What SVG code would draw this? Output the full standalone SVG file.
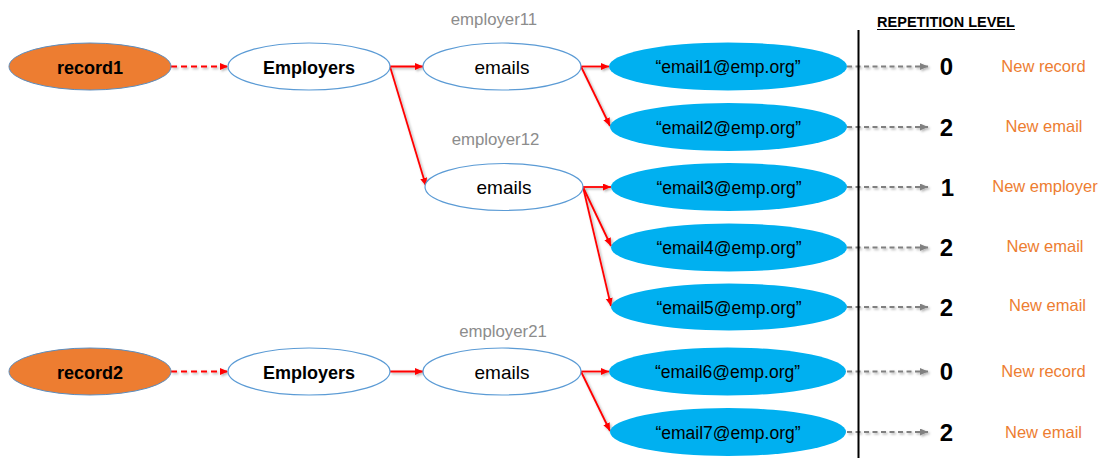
<svg xmlns="http://www.w3.org/2000/svg" width="1102" height="458" viewBox="0 0 1102 458">
  <defs>
    <style>
      .rec { fill: #ED7D31; stroke: #5B8DBF; stroke-width: 1; }
      .grp { fill: #FFFFFF; stroke: #5B9BD5; stroke-width: 1.2; }
      .val { fill: #00B0F0; }
      .t { font-family: "Liberation Sans", Arial, sans-serif; fill: #000; text-anchor: middle; }
      .tb { font-weight: bold; font-size: 18px; }
      .tn { font-size: 19px; }
      .te { font-size: 17.5px; }
      .lbl { font-family: "Liberation Sans", Arial, sans-serif; font-size: 16.8px; fill: #8C8C8C; text-anchor: middle; }
      .lvl { font-family: "Liberation Sans", Arial, sans-serif; font-size: 24px; font-weight: bold; fill: #000; text-anchor: middle; }
      .why { font-family: "Liberation Sans", Arial, sans-serif; font-size: 16.5px; fill: #ED7D31; text-anchor: middle; }
      .red { fill: none; stroke: #FF0000; stroke-width: 1.8; marker-end: url(#ah-red); }
      .dash { stroke-dasharray: 6 4; }
      .gray { fill: none; stroke: #808080; stroke-width: 1.8; stroke-dasharray: 5 3.5; marker-end: url(#ah-gray); }
    </style>
    <marker id="ah-red" markerUnits="userSpaceOnUse" markerWidth="9" markerHeight="8" refX="8" refY="3.5" orient="auto">
      <path d="M0,0 L8,3.5 L0,7 z" fill="#FF0000"/>
    </marker>
    <marker id="ah-gray" markerUnits="userSpaceOnUse" markerWidth="9" markerHeight="8" refX="8" refY="3.5" orient="auto">
      <path d="M0,0 L8,3.5 L0,7 z" fill="#808080"/>
    </marker>
    <filter id="shadow" x="-10%" y="-50%" width="120%" height="200%">
      <feDropShadow dx="1.5" dy="1.5" stdDeviation="1" flood-color="#000" flood-opacity="0.3"/>
    </filter>
  </defs>

  <rect width="1102" height="458" fill="#FFFFFF"/>

  <!-- connectors -->
  <g id="connectors">
    <g filter="url(#shadow)">
      <line class="red dash" x1="171" y1="66.5" x2="228" y2="66.5"/>
      <line class="red" x1="390" y1="66.5" x2="423" y2="66.5"/>
      <line class="red" x1="390" y1="66.5" x2="426" y2="186"/>
      <line class="red" x1="581" y1="66.5" x2="609" y2="66.5"/>
      <line class="red" x1="581" y1="66.5" x2="610" y2="126"/>
      <line class="red" x1="583" y1="187" x2="611" y2="187"/>
      <line class="red" x1="583" y1="187" x2="611" y2="246"/>
      <line class="red" x1="583" y1="187" x2="611" y2="306"/>
      <line class="red dash" x1="171" y1="371.5" x2="228" y2="371.5"/>
      <line class="red" x1="390" y1="371.5" x2="423" y2="371.5"/>
      <line class="red" x1="581" y1="371.5" x2="609" y2="371.5"/>
      <line class="red" x1="581" y1="371.5" x2="610" y2="431"/>
    </g>
    <g filter="url(#shadow)">
      <line class="gray" x1="847" y1="66.5" x2="928" y2="66.5"/>
      <line class="gray" x1="847" y1="127" x2="928" y2="127"/>
      <line class="gray" x1="847" y1="187" x2="928" y2="187"/>
      <line class="gray" x1="847" y1="247.5" x2="928" y2="247.5"/>
      <line class="gray" x1="847" y1="307" x2="928" y2="307"/>
      <line class="gray" x1="847" y1="371.5" x2="928" y2="371.5"/>
      <line class="gray" x1="847" y1="432" x2="928" y2="432"/>
    </g>
  </g>

  <!-- record 1 -->
  <g id="record1">
    <ellipse class="rec" cx="90" cy="66.5" rx="81" ry="23.5"/>
    <text class="t tb" x="90" y="73.5">record1</text>
  </g>
  <g id="employers1">
    <ellipse class="grp" cx="309" cy="66.5" rx="81" ry="23.5"/>
    <text class="t tb" x="309" y="73.5">Employers</text>
  </g>
  <g id="employer11">
    <text class="lbl" x="494" y="25">employer11</text>
    <ellipse class="grp" cx="502" cy="66.5" rx="79" ry="23.5"/>
    <text class="t tn" x="502" y="73.5">emails</text>
  </g>
  <g id="employer12">
    <text class="lbl" x="495.5" y="145">employer12</text>
    <ellipse class="grp" cx="504" cy="187" rx="79" ry="23.5"/>
    <text class="t tn" x="504" y="194">emails</text>
  </g>
  <g id="email1">
    <ellipse class="val" cx="728" cy="66.5" rx="119" ry="24"/>
    <text class="t te" x="728" y="73">“email1@emp.org”</text>
  </g>
  <g id="email2">
    <ellipse class="val" cx="728.5" cy="127" rx="118.5" ry="24"/>
    <text class="t te" x="728.5" y="133.5">“email2@emp.org”</text>
  </g>
  <g id="email3">
    <ellipse class="val" cx="729" cy="187" rx="118" ry="24"/>
    <text class="t te" x="729" y="193.5">“email3@emp.org”</text>
  </g>
  <g id="email4">
    <ellipse class="val" cx="729" cy="247.5" rx="118" ry="24"/>
    <text class="t te" x="729" y="254">“email4@emp.org”</text>
  </g>
  <g id="email5">
    <ellipse class="val" cx="729" cy="307" rx="118" ry="23.5"/>
    <text class="t te" x="729" y="313.5">“email5@emp.org”</text>
  </g>

  <!-- record 2 -->
  <g id="record2">
    <ellipse class="rec" cx="90" cy="371.5" rx="81" ry="23.5"/>
    <text class="t tb" x="90" y="378.5">record2</text>
  </g>
  <g id="employers2">
    <ellipse class="grp" cx="309" cy="371.5" rx="81" ry="23.5"/>
    <text class="t tb" x="309" y="378.5">Employers</text>
  </g>
  <g id="employer21">
    <text class="lbl" x="503" y="337">employer21</text>
    <ellipse class="grp" cx="502" cy="371.5" rx="79" ry="23.5"/>
    <text class="t tn" x="502" y="378.5">emails</text>
  </g>
  <g id="email6">
    <ellipse class="val" cx="727.5" cy="371.5" rx="118.5" ry="24"/>
    <text class="t te" x="727.5" y="378">“email6@emp.org”</text>
  </g>
  <g id="email7">
    <ellipse class="val" cx="728" cy="432" rx="118" ry="24"/>
    <text class="t te" x="728" y="438.5">“email7@emp.org”</text>
  </g>

  <!-- repetition level column -->
  <g id="repetition-level">
    <line x1="858.5" y1="30" x2="858.5" y2="458" stroke="#000" stroke-width="2"/>
    <text x="946" y="27" font-family="Liberation Sans, Arial, sans-serif" font-size="14.5" font-weight="bold" fill="#000" text-anchor="middle">REPETITION LEVEL</text>
    <line x1="877" y1="29.5" x2="1015" y2="29.5" stroke="#000" stroke-width="1.2"/>

    <text class="lvl" x="946.5" y="75">0</text>
    <text class="lvl" x="946.5" y="135.5">2</text>
    <text class="lvl" x="947.5" y="195.5">1</text>
    <text class="lvl" x="946.5" y="256">2</text>
    <text class="lvl" x="946.5" y="315.5">2</text>
    <text class="lvl" x="946.5" y="380">0</text>
    <text class="lvl" x="946.5" y="440.5">2</text>

    <text class="why" x="1043.5" y="71.5">New record</text>
    <text class="why" x="1044" y="132">New email</text>
    <text class="why" x="1045" y="192">New employer</text>
    <text class="why" x="1045" y="251.5">New email</text>
    <text class="why" x="1047.5" y="311">New email</text>
    <text class="why" x="1043.5" y="377">New record</text>
    <text class="why" x="1043.5" y="437.5">New email</text>
  </g>
</svg>
